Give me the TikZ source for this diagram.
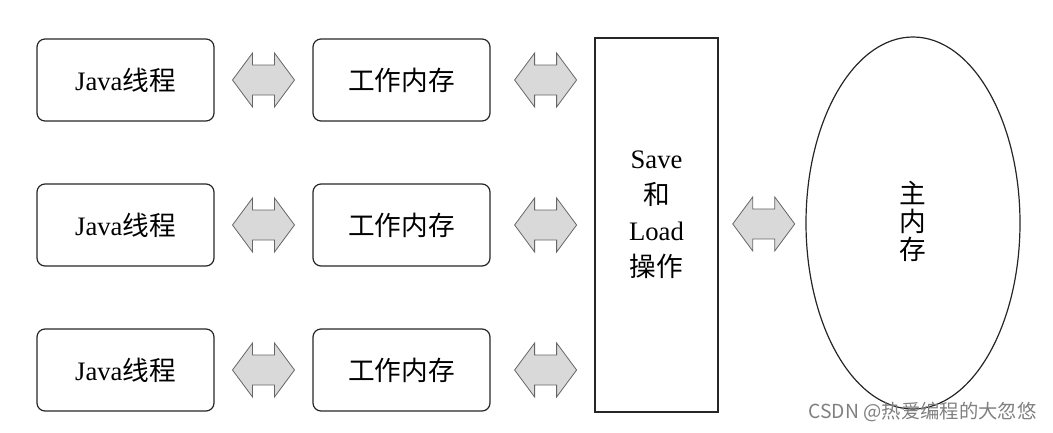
\documentclass[tikz,border=0pt]{standalone}
\usepackage{fontspec}
\setmainfont{Liberation Serif}
\newfontfamily\cjk{Noto Sans CJK SC}
\usetikzlibrary{calc,shapes.geometric}
\begin{document}
\begin{tikzpicture}[x=0.75pt,y=-0.75pt,
  box/.style={draw=black!85, line width=0.9pt, rounded corners=6pt,
    minimum width=132.75pt, minimum height=61.5pt, inner sep=0pt,
    font=\fontsize{20}{24}\selectfont},
  arrowstyle/.style={draw=black!60, line width=0.6pt, fill=black!15, line join=miter},
  dbl/.pic={\draw[arrowstyle] (-31,0) -- (-11,-27) -- (-11,-15) -- (11,-15) -- (11,-27)
     -- (31,0) -- (11,27) -- (11,15) -- (-11,15) -- (-11,27) -- cycle;}
]
\useasboundingbox (0,0) rectangle (1053,432);
\foreach \i/\yy in {1/80,2/225,3/370}{
  \node[box] (j\i) at (125.5,\yy) {Java{\cjk 线程}};
  \node[box] (w\i) at (401.5,\yy) {{\cjk 工作内存}};
}
\node[draw=black!85, line width=0.9pt, minimum width=92.25pt, minimum height=280.5pt,
  inner sep=0pt] (s) at (656.5,225) {};
\node[align=center, font=\fontsize{20}{27}\selectfont] (st) at (656.5,215)
  {Save\\{\cjk 和}\\Load\\{\cjk 操作}};
\node[draw=black!85, line width=0.9pt, ellipse, minimum width=160.5pt, minimum height=279pt,
  inner sep=0pt] (m) at (913,223) {};
\node[align=center, font=\cjk\fontsize{20}{21}\selectfont] (mt) at (913,221)
  {主\\内\\存};
\foreach \i in {1,2,3}{
  \path ($(j\i.east)!0.5!(w\i.west)$) pic {dbl};
  \path ($(w\i.east)!0.53!(w\i.east -| s.west)$) pic {dbl};
}
\path ($(s.east)!0.52!(m.west)$) pic {dbl};
\node[text=black!50, font=\cjk\fontsize{14.5}{16}\selectfont, inner sep=0pt] (wm) at (922.5,412)
  {CSDN @热爱编程的大忽悠};
\end{tikzpicture}
\end{document}
